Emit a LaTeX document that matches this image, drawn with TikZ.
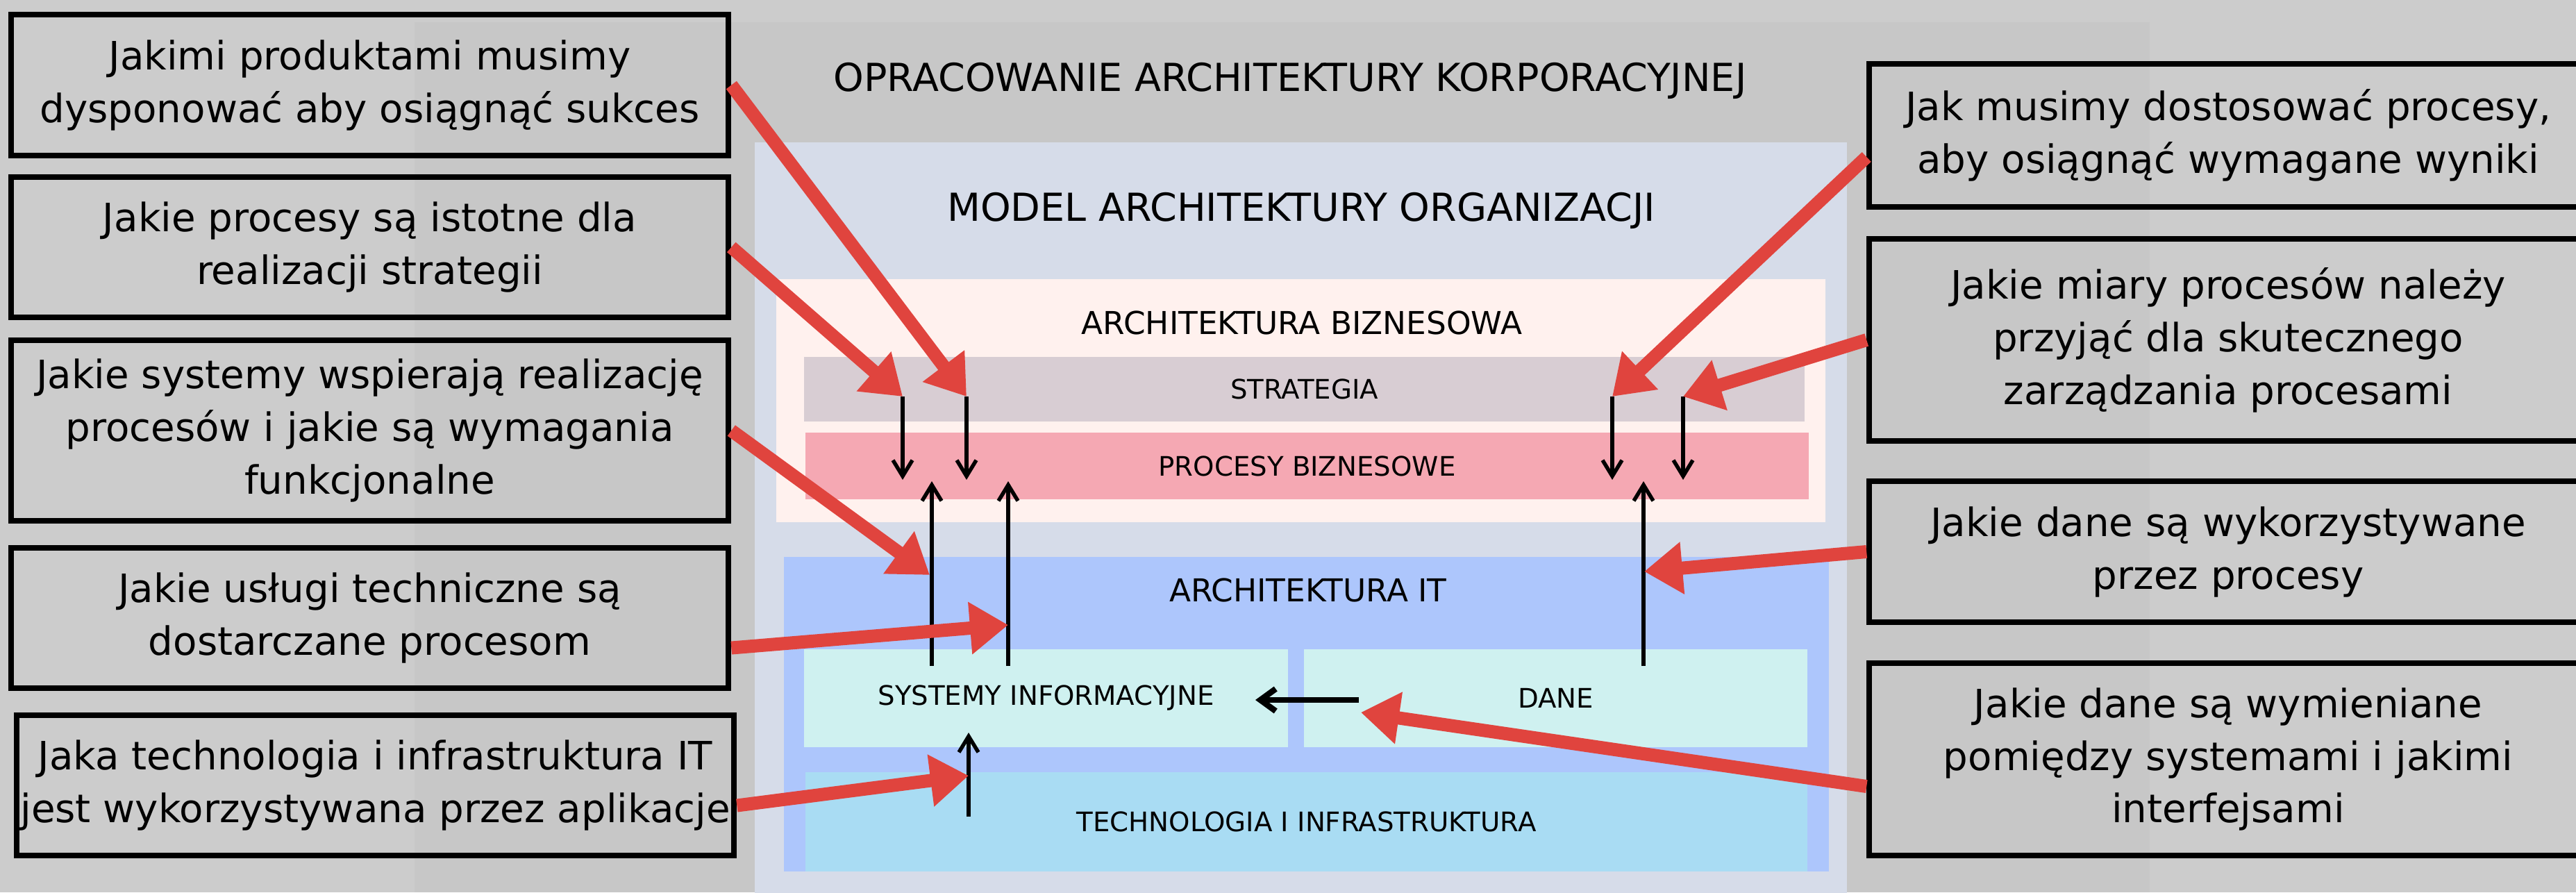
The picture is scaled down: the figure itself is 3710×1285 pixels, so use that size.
\documentclass[tikz,border=0pt]{standalone}
\usepackage{fontspec}
\setmainfont{DejaVu Sans}
\usetikzlibrary{arrows.meta}

\definecolor{pagebg}{HTML}{CCCCCC}
\definecolor{panelbg}{HTML}{C7C7C7}
\definecolor{modelbg}{HTML}{D6DCE9}
\definecolor{bizbg}{HTML}{FFF1EE}
\definecolor{stratbg}{HTML}{D8CDD3}
\definecolor{procbg}{HTML}{F5A8B3}
\definecolor{itbg}{HTML}{ADC6FC}
\definecolor{sysbg}{HTML}{CFF1F0}
\definecolor{techbg}{HTML}{A9DCF3}
\definecolor{arrowred}{HTML}{E0443E}

\begin{document}
\begin{tikzpicture}[x=0.01cm,y=-0.01cm,
  question/.style={draw=black, line width=0.08cm, align=center,
                   inner sep=0pt, minimum width=10.33cm,
                   font=\fontsize{16}{21.6}\selectfont},
  barbox/.style={inner sep=0pt, font=\fontsize{11}{13}\selectfont},
  headtext/.style={anchor=base, font=\fontsize{12.9}{15}\selectfont},
  toptext/.style={anchor=base, font=\fontsize{15.8}{18}\selectfont},
  blkarrow/.style={line width=0.055cm, -{Straight Barb[length=0.23cm,width=0.28cm]}},
  redarrow/.style={draw=arrowred, line width=0.19cm, -{Triangle[length=0.55cm,width=0.72cm]}},
  ]
\useasboundingbox (0,0) rectangle (3710,1285);
\clip (0,0) rectangle (3710,1285);

% tla
\fill[pagebg] (0,0) rectangle (3710,1285);
\fill[panelbg] (597,32) rectangle (3096,1285);
\fill[modelbg] (1087,205) rectangle (2660,1300);
\fill[bizbg] (1118,402) rectangle (2629,752);
\fill[itbg] (1129,802) rectangle (2634,1255);

\node[toptext] (title) at (1858,132) {OPRACOWANIE ARCHITEKTURY KORPORACYJNEJ};
\node[toptext] (model) at (1874,318) {MODEL ARCHITEKTURY ORGANIZACJI};
\node[headtext] (biz) at (1875,481) {ARCHITEKTURA BIZNESOWA};
\node[headtext] (itarch) at (1884,866) {ARCHITEKTURA IT};

\node[barbox, fill=stratbg, minimum width=14.41cm, minimum height=0.93cm]
  (strat) at (1878.5,560.5) {STRATEGIA};
\node[barbox, fill=procbg, minimum width=14.45cm, minimum height=0.96cm]
  (proc) at (1882.5,671) {PROCESY BIZNESOWE};
\node[barbox, fill=sysbg, minimum width=6.97cm, minimum height=1.41cm]
  (sys) at (1506.5,1005.5) {SYSTEMY INFORMACYJNE};
\node[barbox, fill=sysbg, minimum width=7.25cm, minimum height=1.41cm]
  (dane) at (2240.5,1005.5) {DANE};
\node[barbox, fill=techbg, minimum width=14.43cm, minimum height=1.43cm]
  (tech) at (1881.5,1183.5) {TECHNOLOGIA I INFRASTRUKTURA};

% pytania
\node[question, minimum height=2.03cm] (qL1) at (532.5,122.5)
  {Jakimi produktami musimy\\dysponować aby osiągnąć sukces};
\node[question, minimum height=2.02cm] (qL2) at (532.5,356)
  {Jakie procesy są istotne dla\\realizacji strategii};
\node[question, minimum height=2.60cm] (qL3) at (532.5,620)
  {Jakie systemy wspierają realizację\\procesów i jakie są wymagania\\funkcjonalne};
\node[question, minimum height=2.02cm] (qL4) at (532.5,890)
  {Jakie usługi techniczne są\\dostarczane procesom};
\node[question, minimum height=2.02cm] (qL5) at (540.5,1131)
  {Jaka technologia i infrastruktura IT\\jest wykorzystywana przez aplikacje};
\node[question, minimum height=2.06cm] (qR1) at (3209,195)
  {Jak musimy dostosować procesy,\\aby osiągnąć wymagane wyniki};
\node[question, minimum height=2.91cm] (qR2) at (3209,489.5)
  {Jakie miary procesów należy\\przyjąć dla skutecznego\\zarządzania procesami};
\node[question, minimum height=2.03cm] (qR3) at (3209,794.5)
  {Jakie dane są wykorzystywane\\przez procesy};
\node[question, minimum height=2.77cm] (qR4) at (3209,1093.5)
  {Jakie dane są wymieniane\\pomiędzy systemami i jakimi\\interfejsami};

% czarne strzalki
\foreach \x [count=\i] in {1300,1392,2322,2424}{
  \coordinate (dtop\i) at (\x,571);
  \coordinate (dbot\i) at (\x,691);
}
\foreach \x [count=\i] in {1342,1452,2367}{
  \coordinate (ubot\i) at (\x,959);
  \coordinate (utop\i) at (\x,693);
}
\coordinate (techup) at (1395,1176);
\coordinate (sysin) at (1395,1055);
\coordinate (daneout) at (1957,1008);
\coordinate (sysright) at (1808,1008);

\foreach \i in {1,...,4} \draw[blkarrow] (dtop\i) -- (dbot\i);
\foreach \i in {1,...,3} \draw[blkarrow] (ubot\i) -- (utop\i);
\draw[blkarrow] (techup) -- (sysin);
\draw[line width=0.085cm, -{Straight Barb[length=0.22cm,width=0.32cm]}] (daneout) -- (sysright);

% czerwone strzalki
\coordinate (hit3) at (1339,828);
\coordinate (hit4) at (1452,900);
\coordinate (hit5) at (1395,1117);
\coordinate (hit8) at (2368,823);
\coordinate (hit9) at (1960,1026);

\draw[redarrow] (qL1.east) -- (dtop2);
\draw[redarrow] (qL2.east) -- (dtop1);
\draw[redarrow] (qL3.east) -- (hit3);
\draw[redarrow] ([yshift=-0.43cm]qL4.east) -- (hit4);
\draw[redarrow] ([yshift=-0.29cm]qL5.east) -- (hit5);
\draw[redarrow] ([yshift=-0.31cm]qR1.west) -- (dtop3);
\draw[redarrow] (qR2.west) -- (dtop4);
\draw[redarrow] (qR3.west) -- (hit8);
\draw[redarrow] ([yshift=-0.39cm]qR4.west) -- (hit9);
\end{tikzpicture}
\end{document}
